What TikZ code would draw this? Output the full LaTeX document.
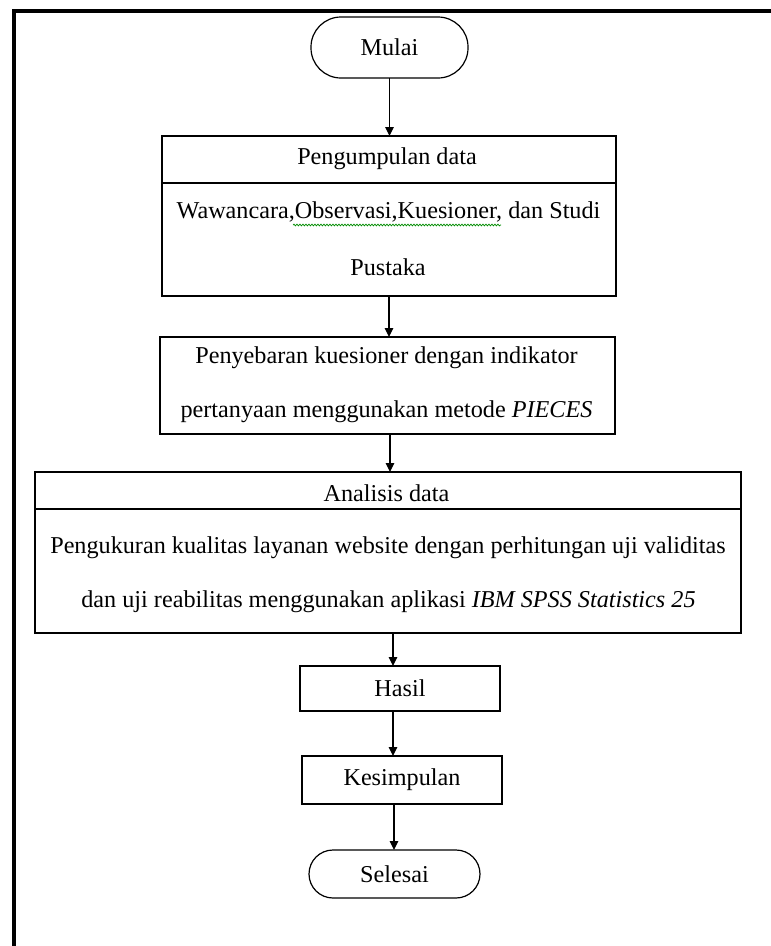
\documentclass[tikz,border=0pt]{standalone}
\usepackage{fontspec}
\setmainfont{Liberation Serif}
\usetikzlibrary{arrows.meta,calc,decorations.pathmorphing}
\begin{document}
\begin{tikzpicture}[x=1pt,y=-1pt,
  every node/.style={font=\fontsize{24.2}{28}\selectfont, inner sep=0pt, outer sep=0pt},
  box/.style={draw, line width=1.4pt, rectangle},
  term/.style={draw, line width=1.2pt, rectangle, rounded corners=#1},
  txt/.style={},
  arr/.style={line width=1.1pt, -{Triangle[length=9pt,width=8.5pt]}},
  squig/.style={draw=green!55!black, line width=0.7pt, decorate, decoration={snake, amplitude=0.9pt, segment length=3pt}}
]
\useasboundingbox (0,0) rectangle (771,946);
\fill[white] (0,0) rectangle (771,946);
% outer frame (cropped)
\draw[line width=4pt, line join=miter] (771,11) -- (13.5,11) -- (13.5,946);

% terminator start
\node[term=30pt, minimum width=157pt, minimum height=61pt] (mulai) at (389.5,47.5) {Mulai};

% box 1
\node[box, minimum width=454pt, minimum height=160pt] (b1) at (389,216) {};
\draw[line width=1.4pt] ($(b1.north west)+(0,47)$) -- ($(b1.north east)+(0,47)$);
\node[txt] (b1t) at (387,159) {Pengumpulan data};
\node[txt] (b1a) at (388.5,212) {Wawancara,Observasi,Kuesioner, dan Studi};
\node[txt] (b1b) at (388,267) {Pustaka};
\draw[squig] (293,225) -- (501,225);

% box 2
\node[box, minimum width=455pt, minimum height=97pt] (b2) at (387.5,385.5) {};
\node[txt] (b2a) at (386.5,358) {Penyebaran kuesioner dengan indikator};
\node[txt] (b2b) at (386.5,412) {pertanyaan menggunakan metode \textit{PIECES}};

% box 3
\node[box, minimum width=706pt, minimum height=161pt] (b3) at (388,552.5) {};
\draw[line width=1.4pt] ($(b3.north west)+(0,37)$) -- ($(b3.north east)+(0,37)$);
\node[txt] (b3t) at (386.5,493) {Analisis data};
\node[txt] (b3a) at (388,548) {Pengukuran kualitas layanan website dengan perhitungan uji validitas};
\node[txt] (b3b) at (388.5,602) {dan uji reabilitas menggunakan aplikasi \textit{IBM SPSS Statistics 25}};

% small boxes
\node[box, minimum width=200pt, minimum height=45pt] (hasil) at (400,688.5) {Hasil};
\node[box, minimum width=200pt, minimum height=48pt] (kes) at (402,780) {Kesimpulan};
\node[term=24pt, minimum width=171pt, minimum height=48pt] (sel) at (394.5,874) {Selesai};

% connectors
\draw[arr] (mulai.south) -- (mulai.south |- b1.north);
\draw[arr] (b1.south) -- (b1.south |- b2.north);
\draw[arr] ([xshift=2.5pt]b2.south) -- ([xshift=2.5pt]b2.south |- b3.north);
\draw[arr] ([xshift=5pt]b3.south) -- ([xshift=5pt]b3.south |- hasil.north);
\draw[arr] ([xshift=-7pt]hasil.south) -- ([xshift=-7pt]hasil.south |- kes.north);
\draw[arr] ([xshift=-8pt]kes.south) -- ([xshift=-8pt]kes.south |- sel.north);
\end{tikzpicture}
\end{document}
